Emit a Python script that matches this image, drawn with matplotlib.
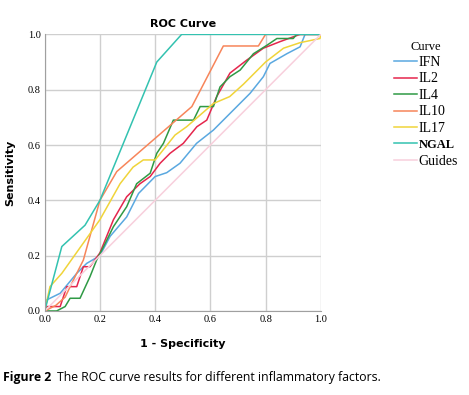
import matplotlib
matplotlib.use("Agg")
import matplotlib.pyplot as plt

# ROC points (1 - specificity, sensitivity)
ifn_x = [0, 0.007, 0.056, 0.116, 0.152, 0.2, 0.237, 0.297, 0.34, 0.4, 0.442, 0.49, 0.55, 0.611,
         0.684, 0.744, 0.792, 0.816, 0.877, 0.925, 0.943, 1.0]
ifn_y = [0, 0.04, 0.064, 0.136, 0.172, 0.2, 0.27, 0.34, 0.425, 0.486, 0.5, 0.534, 0.606, 0.654,
         0.727, 0.787, 0.847, 0.895, 0.93, 0.955, 1.0, 1.0]

il2_x = [0, 0.007, 0.056, 0.08, 0.116, 0.14, 0.164, 0.2, 0.249, 0.297, 0.345, 0.382, 0.418, 0.454,
         0.502, 0.551, 0.587, 0.623, 0.671, 0.732, 0.792, 0.853, 0.925, 1.0]
il2_y = [0, 0.016, 0.016, 0.088, 0.088, 0.16, 0.16, 0.21, 0.33, 0.413, 0.46, 0.486, 0.534, 0.57,
         0.606, 0.666, 0.69, 0.775, 0.86, 0.907, 0.95, 0.974, 1.0, 1.0]

il4_x = [0, 0.043, 0.074, 0.092, 0.128, 0.164, 0.188, 0.213, 0.249, 0.297, 0.333, 0.382, 0.406,
         0.43, 0.466, 0.539, 0.563, 0.611, 0.635, 0.671, 0.708, 0.756, 0.804, 0.841, 0.9, 0.913, 1.0]
il4_y = [0, 0, 0.016, 0.046, 0.046, 0.124, 0.184, 0.232, 0.305, 0.377, 0.46, 0.498, 0.57,
         0.606, 0.69, 0.69, 0.739, 0.739, 0.81, 0.847, 0.871, 0.93, 0.96, 0.985, 0.985, 1.0, 1.0]

il10_x = [0, 0.04, 0.074, 0.104, 0.14, 0.2, 0.261, 0.533, 0.647, 0.774, 0.80, 1.0]
il10_y = [0, 0.02, 0.05, 0.112, 0.184, 0.40, 0.504, 0.739, 0.958, 0.958, 1.0, 1.0]

il17_x = [0, 0.019, 0.062, 0.2, 0.273, 0.32, 0.357, 0.4, 0.472, 0.514, 0.611, 0.67, 0.72, 0.80,
          0.865, 0.925, 0.997, 1.0]
il17_y = [0, 0.088, 0.136, 0.33, 0.46, 0.52, 0.546, 0.546, 0.636, 0.666, 0.75, 0.775, 0.82, 0.9,
          0.95, 0.97, 0.985, 1.0]

ngal_x = [0, 0.062, 0.146, 0.2, 0.406, 0.496, 1.0]
ngal_y = [0, 0.233, 0.31, 0.40, 0.90, 1.0, 1.0]

guide_x = [0, 1]
guide_y = [0, 1]

fig = plt.figure(figsize=(4.69, 3.95), dpi=100)
ax = fig.add_axes([0.0953, 0.2127, 0.5887, 0.7003])

ax.plot(ifn_x, ifn_y, color="#5aa8e0", lw=1.1, label="IFN")
ax.plot(il2_x, il2_y, color="#e5264d", lw=1.1, label="IL2")
ax.plot(il4_x, il4_y, color="#2f9a45", lw=1.1, label="IL4")
ax.plot(il10_x, il10_y, color="#f7855a", lw=1.1, label="IL10")
ax.plot(il17_x, il17_y, color="#f0d43a", lw=1.1, label="IL17")
ax.plot(ngal_x, ngal_y, color="#33c2b0", lw=1.1, label="NGAL")
ax.plot(guide_x, guide_y, color="#f8cfdc", lw=1.1, label="Guides")

ax.set_xlim(0, 1)
ax.set_ylim(0, 1)
ticks = [0.0, 0.2, 0.4, 0.6, 0.8, 1.0]
ax.set_xticks(ticks)
ax.set_yticks(ticks)
ax.set_xticklabels(["%.1f" % t for t in ticks], family="Liberation Serif", fontsize=7.5)
ax.set_yticklabels(["%.1f" % t for t in ticks], family="Liberation Serif", fontsize=7.5)
ax.tick_params(length=0, pad=3)
ax.grid(True, color="#cfcfcf", lw=1)
ax.set_axisbelow(True)
for s in ["top", "right"]:
    ax.spines[s].set_visible(False)
ax.spines["left"].set_color("#a0a0a0")
ax.spines["bottom"].set_color("#a0a0a0")

ax.set_title("ROC Curve", fontsize=8, fontweight="bold", pad=5)
ax.set_xlabel("1 - Specificity", fontsize=8, fontweight="bold", labelpad=11)
ax.set_ylabel("Sensitivity", fontsize=8, fontweight="bold", labelpad=9)

leg = fig.legend(loc="upper left", bbox_to_anchor=(0.825, 0.915), frameon=False,
                 title="Curve", prop={"family": "Liberation Serif", "size": 10},
                 handlelength=1.7, handletextpad=0.1, labelspacing=0.25, borderpad=0)
leg.get_title().set_family("Liberation Serif")
leg.get_title().set_fontsize(9)
leg.texts[5].set_fontweight("bold")
leg.texts[5].set_fontsize(9)

fig.text(0.006, 0.035, "Figure 2", fontsize=8.8, fontweight="bold", family="Open Sans")
fig.text(0.122, 0.035, "The ROC curve results for different inflammatory factors.",
         fontsize=8.8, family="Open Sans")

fig.savefig("out.png", dpi=100)
